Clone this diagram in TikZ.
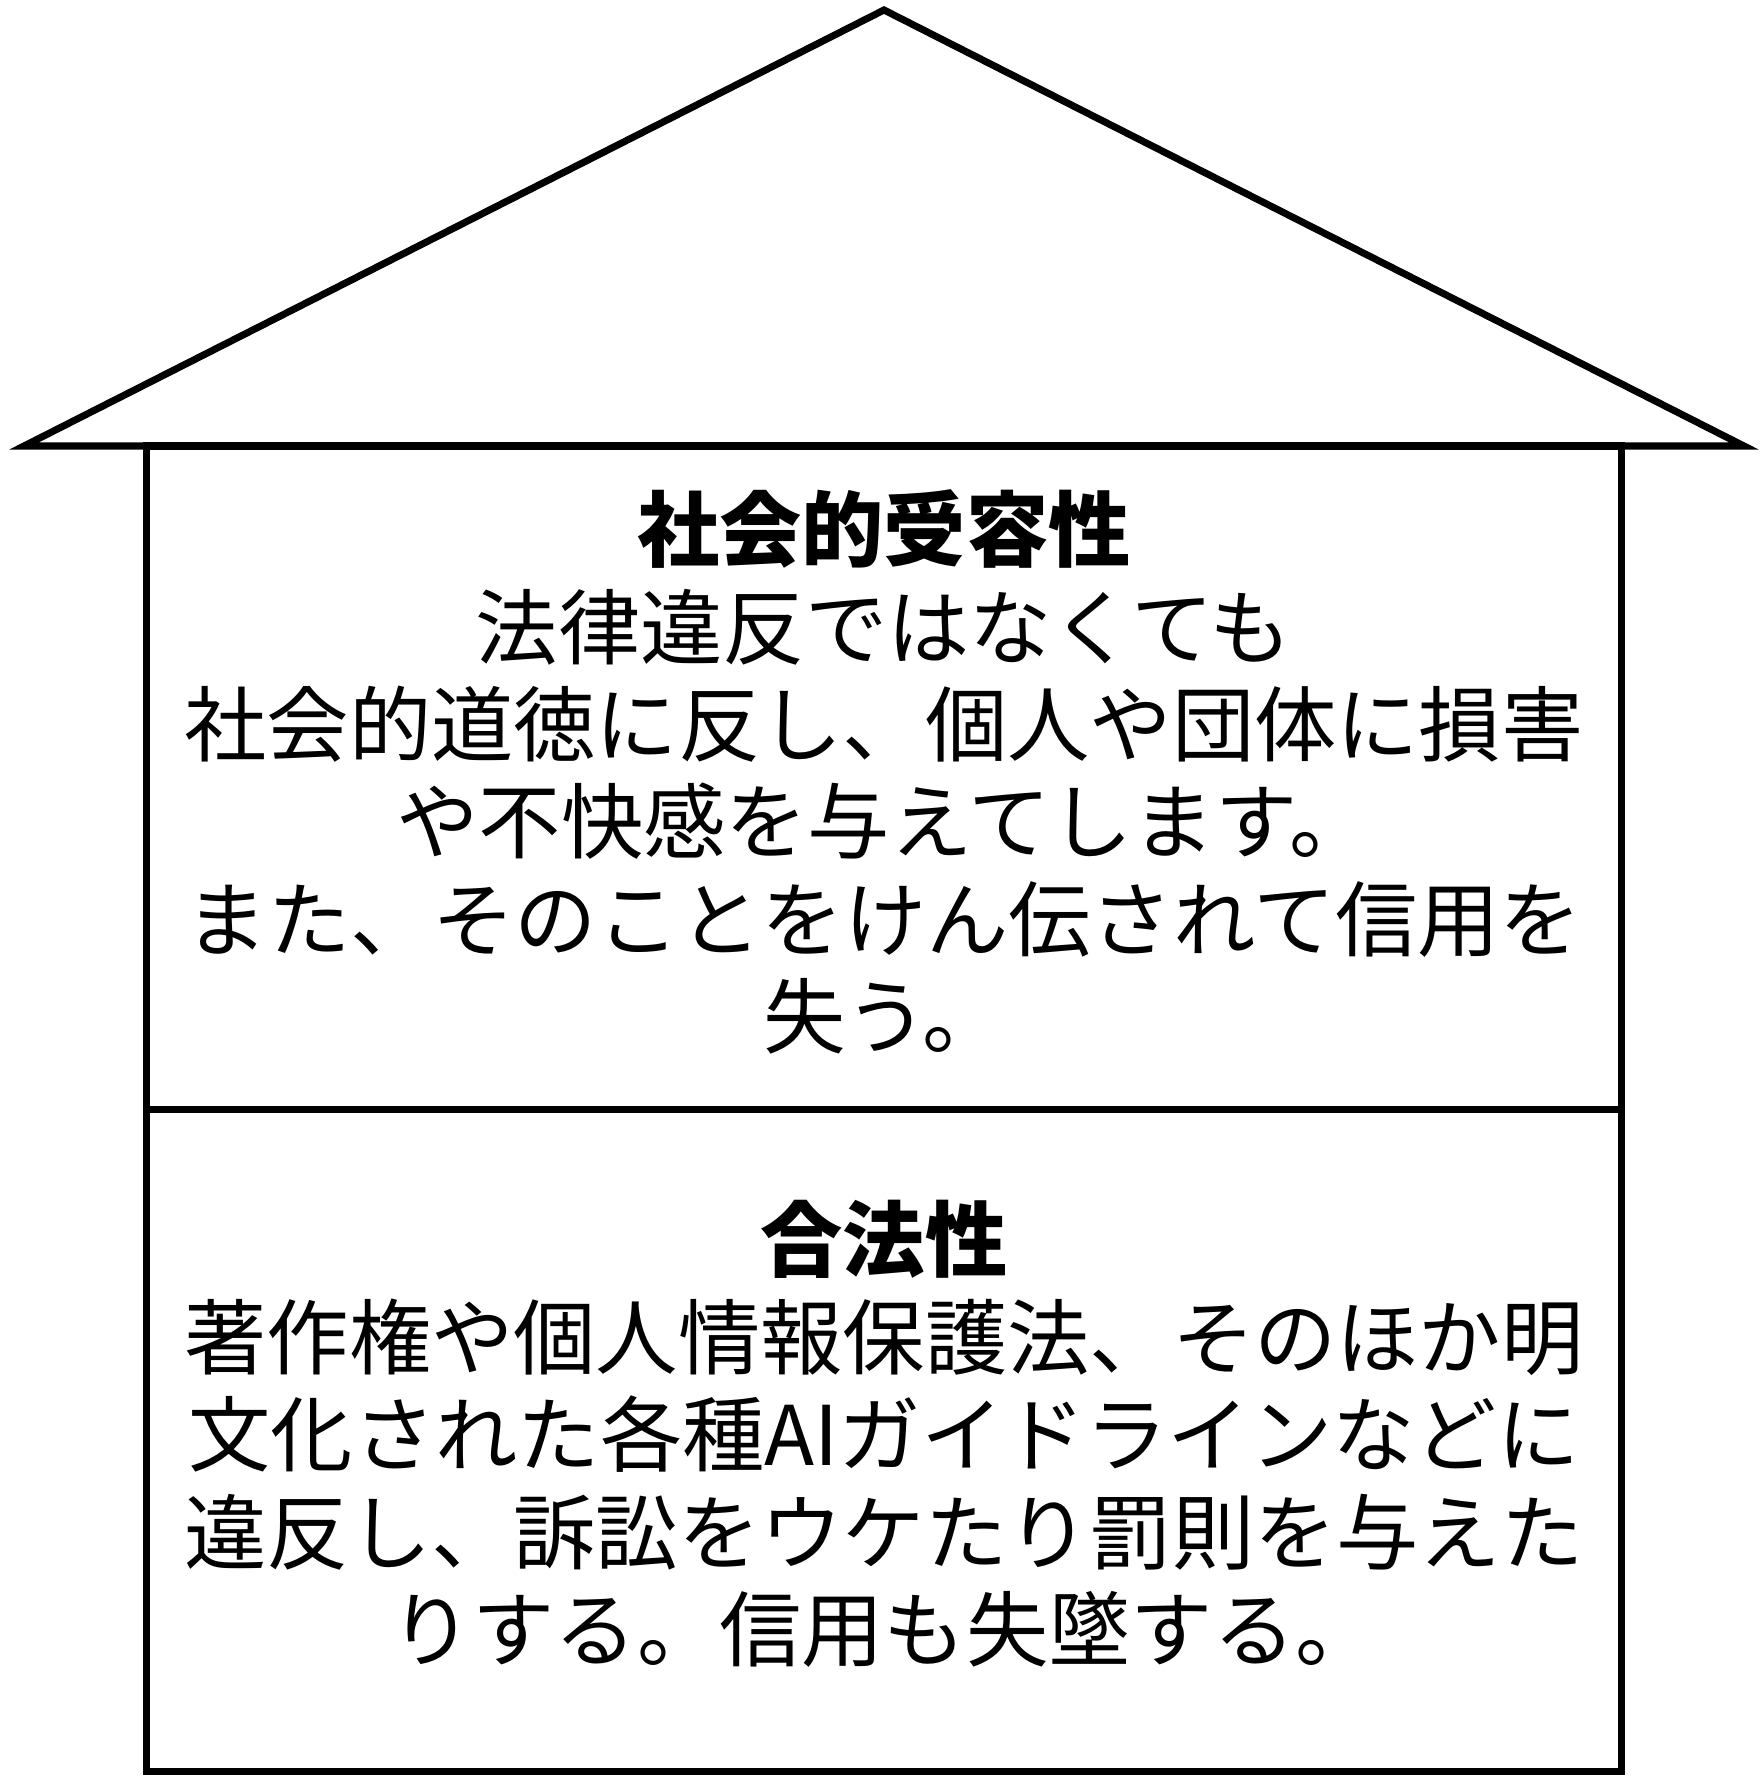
\documentclass[tikz,border=0pt]{standalone}
\usepackage{fontspec}
\setmainfont{Noto Sans CJK JP}
\usepackage{xcolor}
\usepackage{tikz}
\usetikzlibrary{positioning,calc}

\begin{document}
\begin{tikzpicture}[
        x=0.01cm, y=-0.01cm,
        wall/.style={draw=black, line width=2pt, line join=miter},
        txt/.style={align=center, inner sep=0pt, font=\fontsize{23.4}{27.7}\selectfont}
      ]
        \useasboundingbox (0,0) rectangle (1764,1778);
        % roof
        \coordinate (apex) at (884,10);
        \coordinate (eaveL) at (24,446);
        \coordinate (eaveR) at (1744,446);
        \draw[wall] (eaveL) -- (apex) -- (eaveR) -- cycle;
        % two floors
        \coordinate (topL) at (146.5,446);
        \coordinate (midL) at (146.5,1109);
        \coordinate (botR) at (1621.5,1771);
        \draw[wall] (topL) rectangle (botR);
        \draw[wall] (midL) -- (midL -| botR);
        \node[txt] (social) at (884,772) {\textbf{社会的受容性}\\法律違反ではなくても\\社会的道徳に反し、個人や団体に損害\\や不快感を与えてします。\\また、そのことをけん伝されて信用を\\失う。};
        \node[txt] (legal) at (884,1434) {\textbf{合法性}\\著作権や個人情報保護法、そのほか明\\文化された各種AIガイドラインなどに\\違反し、訴訟をウケたり罰則を与えた\\りする。信用も失墜する。};
      \end{tikzpicture}
\end{document}
